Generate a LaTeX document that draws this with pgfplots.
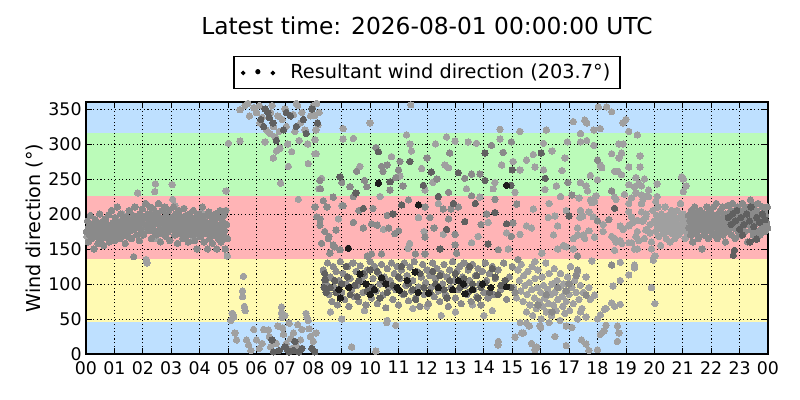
\documentclass[border=0pt]{standalone}
\usepackage{pgfplots}
\pgfplotsset{compat=1.18}
\usepackage{fontspec}
\setmainfont{DejaVu Sans}
\definecolor{bandblue}{RGB}{190,224,255}
\definecolor{bandgreen}{RGB}{187,251,185}
\definecolor{bandpink}{RGB}{255,180,182}
\definecolor{bandyellow}{RGB}{255,250,178}
\definecolor{ptlight}{RGB}{160,160,160}
\definecolor{ptmid}{RGB}{138,138,138}
\definecolor{ptdark}{RGB}{96,96,96}
\definecolor{ptblack}{RGB}{28,28,28}
\begin{document}
\begin{tikzpicture}
\useasboundingbox (0,0) rectangle (576pt,288pt);
\begin{axis}[
  at={(61.92pt,33.12pt)}, anchor=south west,
  scale only axis, width=491.04pt, height=181.44pt,
  xmin=0, xmax=24, ymin=0, ymax=360,
  xtick={0,1,...,24},
  xticklabels={00,01,02,03,04,05,06,07,08,09,10,11,12,13,14,15,16,17,18,19,20,21,22,23,00},
  ytick={0,50,100,150,200,250,300,350},
  yticklabels={0,50,100,150,200,250,300,350},
  /pgf/number format/assume math mode=true,
  tick label style={font=\fontsize{12.5}{15}\selectfont, inner sep=0pt},
  xticklabel style={yshift=-5pt},
  yticklabel style={xshift=-3pt},
  grid=major,
  major grid style={black, line width=0.5pt, dash pattern=on 0.8pt off 1.8pt},
  axis on top,
  axis line style={black, line width=0.9pt},
  major tick length=4pt,
  tick style={black, line width=0.6pt},
  ylabel={Wind direction (°)},
  ylabel style={font=\fontsize{13.8}{16}\selectfont},
  title={Latest time: 2026-08-01 00:00:00 UTC},
  title style={at={(0.5,1)}, anchor=base, yshift=42.5pt, font=\fontsize{16.8}{19}\selectfont},
  legend style={at={(0.5,1.052)}, anchor=south, draw=black, line width=0.8pt,
    font=\fontsize{13.9}{16}\selectfont, inner xsep=5pt, inner ysep=3.5pt,
    /tikz/every odd column/.append style={column sep=9pt}},
  legend image code/.code={
    \fill[black] (0pt,-0.45pt) circle (1.2pt);
    \fill[black] (10.6pt,0.45pt) circle (1.45pt);
    \fill[black] (21.4pt,-0.45pt) circle (1.2pt);
  },
  legend cell align=left,
]
% background bands
\addplot[fill=bandblue, draw=none, forget plot] coordinates {(0,0) (24,0) (24,45) (0,45)} -- cycle;
\addplot[fill=bandyellow, draw=none, forget plot] coordinates {(0,45) (24,45) (24,135) (0,135)} -- cycle;
\addplot[fill=bandpink, draw=none, forget plot] coordinates {(0,135) (24,135) (24,225) (0,225)} -- cycle;
\addplot[fill=bandgreen, draw=none, forget plot] coordinates {(0,225) (24,225) (24,315) (0,315)} -- cycle;
\addplot[fill=bandblue, draw=none, forget plot] coordinates {(0,315) (24,315) (24,360) (0,360)} -- cycle;

% light points
\addplot[only marks, mark=*, mark size=2.3pt, color=ptlight, mark options={draw=ptlight, fill=ptlight, line width=0pt}, forget plot] coordinates {
(0.03,168) (0.27,185) (0.53,176) (0.87,165) (1.13,190) (1.43,173) (1.73,185) (2.03,178) (2.33,188) (2.63,181)
(2.97,178) (3.27,190) (3.57,177) (3.87,183) (4.17,188) (4.47,170) (4.77,178) (4.97,140) (1.27,200) (2.17,196)
(3.13,212) (4.07,202) (0.63,190) (2.47,165) (3.77,168) (1.82,230) (2.44,243) (2.42,232) (3.03,242) (3.05,221)
(4.93,233) (2.15,130) (2.12,135)
(5.01,301) (5.42,304) (5.42,349) (5.6,355) (5.75,340) (5.9,352) (6.0,345) (6.12,330) (6.2,338) (6.3,303)
(6.35,320) (6.47,315) (6.5,345) (6.55,355) (6.6,325) (6.65,310) (6.7,290) (6.75,340) (6.8,318) (6.83,294)
(6.9,335) (7.0,350) (7.05,325) (7.1,300) (7.24,289) (7.3,342) (7.35,318) (7.45,355) (7.5,305) (7.55,330)
(7.6,345) (7.7,320) (7.8,300) (7.82,272) (7.9,340) (8.0,355) (8.06,286) (8.1,320) (8.2,345) (6.59,280)
(6.85,244) (7.12,268) (7.47,221) (6.1,355) (5.7,358) (7.4,358) (8.12,358) (8.06,341) (8.17,327) (8.06,306)
(5.54,111) (5.51,90) (5.51,82) (5.57,68) (5.6,62) (5.16,58) (5.2,53) (5.24,30) (5.3,20) (5.65,20)
(5.72,13) (5.8,5) (6.0,20) (6.1,8) (6.25,35) (6.42,34) (6.45,25) (6.5,10) (6.7,15) (6.88,67)
(6.88,59) (6.9,52) (7.0,55) (6.92,37) (6.95,28) (7.05,15) (7.2,22) (7.25,8) (7.3,30) (7.4,12)
(7.55,20) (7.6,35) (7.74,58) (7.78,52) (7.82,48) (7.85,36) (7.9,25) (8.0,18) (8.1,30) (6.75,40)
(7.15,44) (7.45,42) (5.9,35) (6.2,15) (5.14,58) (5.1,48)
(9.05,322) (9.41,308) (9.05,307) (11.28,313) (11.4,300) (11.45,290) (10.75,282) (9.64,268) (8.29,251) (10.35,225)
(11.05,254) (11.93,234) (11.81,265) (8.1,286) (8.2,236) (14.57,321) (15.27,318) (14.57,307) (12.69,310) (12.99,304)
(13.45,303) (13.74,301) (12.63,270) (12.76,266) (14.63,270) (15.03,275) (15.27,263) (15.5,277) (13.39,236) (14.39,245)
(14.33,236) (15.1,231) (13.86,224) (14.15,188) (12.57,171) (13.8,168) (14.8,173) (15.27,171) (13.57,159) (14.86,150)
(11.39,158) (11.33,151) (9.0,212) (8.88,193) (10.47,178) (11.7,195) (12.3,300) (12.2,245) (10.0,330) (11.43,356)
(12.4,215) (11.9,175)
(10.6,48) (10.9,41) (10.58,45) (9.35,10) (10.2,4) (12.5,55) (13.0,60) (11.5,65) (8.6,60) (9.0,50)
(14.0,55) (14.5,13) (15.1,24) (15.39,30) (14.51,18) (15.68,15) (15.86,10) (15.5,44) (15.97,40) (15.33,30)
(15.8,6) (14.3,62) (13.6,70) (9.8,62) (12.0,68)
(16.1,301) (16.1,263) (15.74,285) (15.8,267) (15.74,207) (15.5,183) (15.68,180) (16.27,195) (16.5,197) (16.6,183)
(16.04,144) (15.8,132) (18.03,353) (18.32,353) (18.5,346) (17.15,332) (17.55,334) (17.62,330) (18.9,330) (19.0,335)
(17.87,320) (18.1,322) (19.1,318) (19.4,313) (17.4,315) (17.4,303) (17.62,305) (16.94,303) (17.87,298) (18.75,300)
(18.9,300) (18.5,286) (19.5,283) (18.85,287) (18.75,280) (18.1,270) (18.15,266) (19.1,267) (19.5,267) (18.6,261)
(18.72,261) (18.85,256) (17.75,255) (18.0,249) (17.4,245) (17.6,240) (17.65,233) (19.1,242) (19.35,252) (19.45,244)
(19.55,240) (19.65,250) (19.3,239) (19.8,234) (20.1,243) (18.6,224) (18.65,221) (18.95,228) (19.2,223) (19.35,230)
(19.55,227) (19.6,221) (19.75,226) (17.35,223) (17.75,220) (17.8,216) (17.9,218) (17.95,226) (19.1,215) (17.4,205)
(17.38,195) (17.7,203) (17.85,196) (19.1,203) (19.2,196) (19.4,191) (19.55,203) (19.7,196) (20.05,218) (20.1,225)
(18.2,185) (17.48,197) (18.8,183) (18.9,178) (19.1,183) (19.15,185) (19.25,188) (19.55,190) (17.3,180) (17.7,176)
(17.5,170) (17.55,165) (17.9,167) (18.2,175) (18.5,168) (18.6,165) (18.65,160) (18.8,162) (18.85,158) (19.4,175)
(19.35,168) (19.45,162) (19.1,159) (19.2,159) (19.7,177) (19.85,173) (17.15,165) (17.3,170) (16.8,155) (16.9,153)
(17.15,150) (18.6,148) (19.3,150) (19.4,150) (19.3,123) (19.3,127) (18.8,131) (17.8,133) (19.1,113) (18.8,105)
(18.55,97) (19.9,95) (17.9,84) (18.5,73) (18.8,71) (18.3,65) (18.25,64) (18.6,68) (17.4,60) (17.6,53)
(18.0,50) (18.1,56) (17.44,20) (17.6,14) (17.7,5) (18.0,6) (18.1,28) (18.3,41) (18.23,33) (18.7,40)
(18.75,30) (18.7,18) (16.5,25) (16.9,12) (17.1,38) (16.2,320) (16.4,290) (16.55,240) (16.7,225) (16.3,215)
(16.45,170) (16.75,262) (16.9,205) (16.6,150) (16.15,235) (16.85,280)
(15.2,120) (15.25,105) (15.3,90) (15.32,128) (15.38,75) (15.4,112) (15.45,98) (15.5,60) (15.52,85) (15.55,118)
(15.6,102) (15.62,70) (15.68,92) (15.7,125) (15.72,55) (15.78,80) (15.8,108) (15.85,65) (15.88,95) (15.9,120)
(15.95,75) (16.0,88) (16.02,50) (16.05,110) (16.08,68) (16.1,98) (16.15,80) (16.18,130) (16.2,60) (16.25,92)
(16.28,72) (16.3,115) (16.35,85) (16.38,55) (16.4,100) (16.45,70) (16.48,122) (16.5,88) (16.55,62) (16.58,105)
(16.6,78) (16.65,95) (16.68,48) (16.7,115) (16.75,82) (16.78,68) (16.8,100) (16.85,58) (16.88,90) (16.9,75)
(16.95,110) (17.0,85) (17.02,62) (17.05,125) (17.1,95) (17.15,72) (17.2,105) (17.25,88) (17.3,118) (17.35,78)
(17.4,98) (17.45,65) (17.5,88) (17.6,110) (17.7,95) (17.75,78) (15.15,80) (15.05,95) (15.28,45) (15.6,40)
(16.0,38) (16.3,45) (16.9,40) (17.3,50)
(19.55,215) (19.6,190) (19.65,165) (19.7,200) (19.75,178) (19.8,225) (19.85,185) (19.9,160) (19.95,205) (20.0,190)
(20.02,140) (20.05,175) (20.08,198) (20.1,183) (20.12,210) (20.15,168) (20.18,192) (20.2,180) (20.22,155) (20.25,200)
(20.28,185) (20.3,172) (20.32,195) (20.35,178) (20.38,210) (20.4,188) (20.42,165) (20.45,182) (20.48,198) (20.5,175)
(20.52,190) (20.55,160) (20.58,185) (20.6,205) (20.62,172) (20.65,188) (20.68,180) (20.7,198) (20.72,165) (20.75,190)
(20.78,178) (20.8,205) (20.82,185) (20.85,170) (20.88,195) (20.9,183) (20.92,215) (20.95,175) (20.98,190) (21.0,200)
(21.02,250) (21.05,180) (21.08,165) (21.1,193) (21.12,240) (21.15,185) (21.18,172) (20.96,253) (21.02,232) (20.02,72)
(19.96,134) (19.9,150)
};

% mid points
\addplot[only marks, mark=*, mark size=2.3pt, color=ptmid, mark options={draw=ptmid, fill=ptmid, line width=0pt}, forget plot] coordinates {
(0.02,175) (0.05,190) (0.08,160) (0.10,182) (0.12,170) (0.15,198) (0.18,177) (0.20,165) (0.22,186) (0.25,172)
(0.28,150) (0.30,180) (0.33,192) (0.35,168) (0.38,176) (0.40,185) (0.42,158) (0.45,171) (0.48,200) (0.50,179)
(0.52,163) (0.55,188) (0.58,174) (0.60,182) (0.62,155) (0.65,170) (0.68,193) (0.70,178) (0.72,166) (0.75,185)
(0.78,172) (0.80,199) (0.82,160) (0.85,180) (0.88,175) (0.90,205) (0.92,168) (0.95,187) (0.98,176) (1.00,162)
(1.02,195) (1.05,183) (1.08,170) (1.10,210) (1.12,178) (1.15,188) (1.18,165) (1.20,175) (1.22,200) (1.25,182)
(1.28,168) (1.30,192) (1.32,177) (1.35,185) (1.38,158) (1.40,172) (1.42,196) (1.45,181) (1.48,168) (1.50,188)
(1.52,205) (1.55,176) (1.58,190) (1.60,165) (1.62,183) (1.65,198) (1.68,139) (1.70,178) (1.72,210) (1.75,186)
(1.78,170) (1.80,193) (1.85,180) (1.88,162) (1.90,200) (1.92,188) (1.95,175) (1.98,207) (2.00,190) (2.02,170)
(2.05,195) (2.08,183) (2.10,215) (2.18,200) (2.20,185) (2.22,176) (2.25,210) (2.28,192) (2.30,165) (2.32,198)
(2.35,182) (2.38,207) (2.40,175) (2.45,190) (2.48,170) (2.50,200) (2.52,186) (2.55,215) (2.58,178) (2.60,195)
(2.62,160) (2.65,188) (2.68,205) (2.70,172) (2.72,192) (2.75,183) (2.78,210) (2.80,168) (2.82,198) (2.85,180)
(2.88,190) (2.90,175) (2.92,205) (2.95,162) (2.98,185) (3.00,195) (3.05,178) (3.08,210) (3.10,188) (3.12,170)
(3.15,200) (3.18,183) (3.20,192) (3.22,158) (3.25,176) (3.28,205) (3.30,186) (3.32,172) (3.35,196) (3.38,181)
(3.40,165) (3.42,190) (3.45,208) (3.48,176) (3.50,185) (3.52,198) (3.55,170) (3.58,188) (3.60,160) (3.62,180)
(3.65,200) (3.68,175) (3.70,190) (3.72,183) (3.75,170) (3.78,205) (3.80,186) (3.82,162) (3.85,195) (3.88,178)
(3.90,150) (3.92,188) (3.95,172) (3.98,200) (4.00,182) (4.02,168) (4.05,193) (4.08,176) (4.10,210) (4.12,185)
(4.15,160) (4.18,180) (4.20,197) (4.22,172) (4.25,188) (4.28,150) (4.30,178) (4.32,203) (4.35,165) (4.38,186)
(4.40,174) (4.42,195) (4.45,158) (4.48,181) (4.50,190) (4.52,170) (4.55,200) (4.58,177) (4.60,150) (4.62,185)
(4.65,165) (4.68,195) (4.70,175) (4.72,205) (4.75,160) (4.78,183) (4.80,190) (4.82,170) (4.85,198) (4.88,176)
(4.90,150) (4.92,205) (4.95,185) (4.98,165)
(12.8,287) (14.68,288) (14.97,303) (14.27,298) (13.57,257) (13.86,257) (12.76,231) (13.57,226) (15.16,214) (14.39,221)
(12.76,193) (15.03,187) (12.99,171) (14.97,168) (14.51,149) (11.05,275) (11.0,263) (9.52,261) (9.0,245) (9.29,239)
(9.8,248) (9.88,239) (10.7,234) (10.9,252) (8.7,224) (8.35,219) (8.06,210) (8.12,196) (8.48,210) (9.05,212)
(10.1,208) (10.6,198) (11.35,220) (11.93,210) (12.1,195) (8.23,184) (9.41,188) (9.76,180) (10.05,186) (10.25,184)
(10.65,180) (10.87,172) (11.0,176) (8.8,177) (8.53,165) (8.29,158) (8.7,156) (8.75,153) (8.94,149) (8.58,144)
(11.93,167) (11.59,143) (11.93,143) (10.05,143) (10.4,143) (9.9,140) (12.57,207) (12.85,207) (13.1,210) (14.1,200)
(12.99,156) (13.04,144) (13.33,251) (9.41,225) (10.6,270) (10.4,268) (10.45,261) (8.25,236) (8.23,248) (8.23,193)
(8.4,175) (8.55,168) (13.9,185) (12.35,250) (12.0,280) (10.2,295) (9.6,205) (11.15,240) (12.25,180)
(8.35,120) (8.45,100) (8.5,130) (8.55,85) (8.6,110) (8.65,75) (8.7,125) (8.75,95) (8.8,118) (8.85,70)
(8.9,105) (8.95,132) (9.0,88) (9.05,115) (9.1,78) (9.15,100) (9.2,125) (9.25,68) (9.3,108) (9.35,92)
(9.4,130) (9.45,82) (9.5,118) (9.55,98) (9.6,75) (9.65,126) (9.7,105) (9.75,88) (9.8,112) (9.85,70)
(9.9,120) (9.95,95) (10.0,132) (10.05,80) (10.1,108) (10.15,125) (10.2,90) (10.25,72) (10.3,115) (10.35,100)
(10.4,128) (10.45,84) (10.5,110) (10.55,66) (10.6,122) (10.65,95) (10.7,105) (10.75,130) (10.8,78) (10.85,115)
(10.9,92) (10.95,125) (11.0,70) (11.05,108) (11.1,120) (11.15,85) (11.2,130) (11.25,98) (11.3,112) (11.35,76)
(11.4,124) (11.45,90) (11.5,105) (11.55,132) (11.6,80) (11.65,118) (11.7,96) (11.75,68) (11.8,110) (11.85,128)
(11.9,85) (11.95,102) (12.0,120) (12.05,72) (12.1,112) (12.15,95) (12.2,130) (12.25,82) (12.3,108) (12.35,122)
(12.4,90) (12.45,75) (12.5,115) (12.55,100) (12.6,128) (12.65,85) (12.7,110) (12.75,68) (12.8,120) (12.85,95)
(12.9,132) (12.95,105) (13.0,80) (13.05,118) (13.1,92) (13.15,125) (13.2,72) (13.25,110) (13.3,130) (13.35,98)
(13.4,85) (13.45,120) (13.5,105) (13.55,75) (13.6,128) (13.65,92) (13.7,112) (13.75,82) (13.8,122) (13.85,100)
(13.9,70) (13.95,118) (14.0,88) (14.05,130) (14.1,105) (14.15,80) (14.2,115) (14.25,95) (14.3,125) (14.35,85)
(14.4,108) (14.5,120) (14.6,92) (14.7,130) (14.8,78) (14.9,110) (15.0,125) (15.1,88) (15.2,135)
(16.96,245) (18.5,233) (17.1,227) (18.0,277) (18.4,192) (18.0,190) (18.5,127) (17.3,140) (17.6,84) (17.3,120)
(17.25,112) (16.9,90) (16.2,85) (15.9,70) (16.4,60) (17.0,100) (16.6,95)
(21.2,198) (21.22,180) (21.25,190) (21.28,170) (21.3,205) (21.32,185) (21.35,160) (21.38,195) (21.4,178) (21.42,210)
(21.45,188) (21.48,172) (21.5,200) (21.52,183) (21.55,165) (21.58,192) (21.6,178) (21.62,205) (21.65,186) (21.68,150)
(21.7,195) (21.72,180) (21.75,170) (21.78,200) (21.8,188) (21.82,175) (21.85,210) (21.88,190) (21.9,165) (21.92,198)
(21.95,182) (21.98,205) (22.0,175) (22.02,192) (22.05,185) (22.08,210) (22.1,170) (22.12,198) (22.15,180) (22.18,215)
(22.2,190) (22.22,165) (22.25,200) (22.28,185) (22.3,175) (22.32,205) (22.35,192) (22.38,180) (22.4,210) (22.42,170)
(22.45,195) (22.48,188) (22.5,160) (22.52,200) (22.55,178) (22.58,212) (22.6,190) (22.62,175) (22.65,198) (22.68,185)
(22.7,205) (22.72,170) (22.75,215) (22.78,192) (22.8,180) (22.82,200) (22.85,165) (22.88,195) (22.9,185) (22.92,210)
(22.95,175) (22.98,198) (23.0,188) (23.02,205) (23.05,170) (23.08,195) (23.1,215) (23.12,182) (23.15,200) (23.18,190)
(23.2,175) (23.22,210) (23.25,195) (23.28,160) (23.3,205) (23.32,185) (23.35,198) (23.38,220) (23.4,178) (23.42,200)
(23.45,190) (23.48,170) (23.5,212) (23.52,195) (23.55,185) (23.58,205) (23.6,175) (23.62,198) (23.65,215) (23.68,188)
(23.7,200) (23.72,170) (23.75,192) (23.78,180) (23.8,210) (23.82,195) (23.85,185) (23.88,205) (23.9,175) (23.92,198)
(23.95,188) (23.98,210) (23.99,180)
};

% dark points
\addplot[only marks, mark=*, mark size=2.3pt, color=ptdark, mark options={draw=ptdark, fill=ptdark, line width=0pt}, forget plot] coordinates {
(6.15,335) (6.25,325) (6.4,345) (6.58,330) (6.7,305) (6.95,320) (7.2,340) (7.4,325) (7.65,335) (7.75,315)
(7.95,350) (8.15,330) (6.45,338) (7.05,345) (6.3,350)
(6.8,5) (7.0,10) (7.15,3) (7.3,5) (7.35,18) (6.55,20) (7.6,8) (6.6,3) (7.1,5) (7.5,3) (8.05,3) (7.95,8)
(8.41,106) (8.38,95) (8.45,88) (8.4,115)
(10.29,289) (8.94,253) (10.7,246) (11.87,241) (9.76,208) (11.11,213) (14.04,287) (16.02,287) (16.16,251) (13.1,259)
(14.04,248) (14.95,241) (12.93,215) (14.39,202) (13.33,189) (14.8,186) (12.69,178) (14.15,157) (12.46,150) (15.0,263)
(11.4,275) (12.4,225) (9.5,230) (13.7,215) (10.8,200) (12.15,260)
(8.6,95) (8.8,88) (9.0,100) (9.2,110) (9.3,85) (9.45,98) (9.6,105) (9.75,115) (9.9,90) (10.1,95)
(10.25,118) (10.45,105) (10.6,88) (10.8,98) (11.0,110) (11.2,86) (11.35,100) (11.5,92) (11.75,115) (11.9,95)
(12.1,88) (12.3,100) (12.45,112) (12.6,92) (12.8,105) (13.0,115) (13.15,95) (13.3,108) (13.45,88) (13.6,100)
(13.75,112) (13.9,95) (14.05,102) (14.2,88) (14.4,110) (14.6,98) (14.75,105) (14.95,95) (9.15,125) (10.0,120)
(11.1,125) (12.2,118) (13.5,125) (14.3,122) (8.75,105) (9.55,82) (10.35,80) (11.6,78) (12.7,80) (13.8,80)
(14.5,85)
(18.6,208) (17.0,197)
(22.6,195) (22.7,185) (22.75,200) (22.85,190) (22.9,205) (23.0,178) (23.05,195) (23.15,185) (23.25,200) (23.35,190)
(23.4,210) (23.5,182) (23.6,195) (23.7,188) (23.8,200) (23.9,192) (23.1,170) (22.78,141) (22.82,148) (23.36,160)
(23.6,164)
};

% black points
\addplot[only marks, mark=*, mark size=2.3pt, color=ptblack, mark options={draw=ptblack, fill=ptblack, line width=0pt}, forget plot] coordinates {
(9.64,114) (10.4,109) (11.03,91) (11.69,88) (12.05,87) (11.58,117) (13.28,100) (13.34,86) (14.8,96) (8.9,92)
(9.25,95) (9.85,100) (10.15,92) (10.55,100) (10.95,95) (11.3,105) (12.4,95) (12.9,92) (13.1,105) (13.6,92)
(13.95,100) (14.25,95) (8.95,80) (10.0,85) (10.29,244) (9.23,151) (14.8,241) (11.7,213)
};

\addlegendimage{only marks, mark=*, black}
\addlegendentry{Resultant wind direction (203.7°)}
\end{axis}
\end{tikzpicture}
\end{document}
